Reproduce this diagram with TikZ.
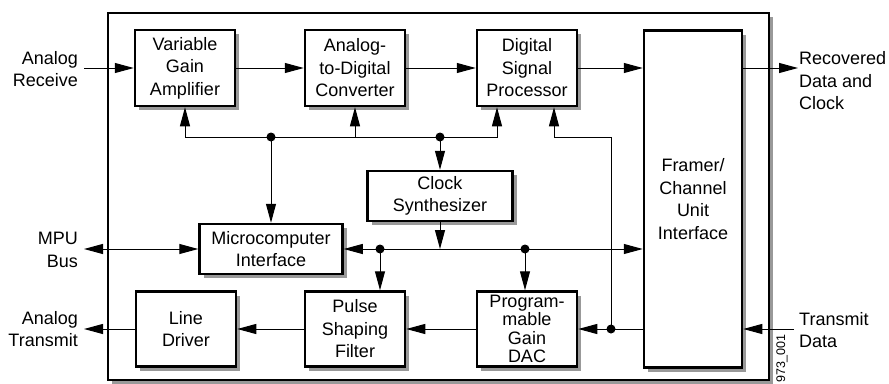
\documentclass[tikz,border=0pt]{standalone}
\usepackage{fontspec}
\setmainfont{Liberation Sans}
\usetikzlibrary{arrows.meta}
\usetikzlibrary{shadows}
\usetikzlibrary{calc}
\tikzset{ptr/.tip={Triangle[length=19pt,width=10pt]}}
\tikzset{blk/.style={rectangle,draw=black,line width=2.5pt,fill=white,align=center,inner sep=0pt,general shadow={fill=black!40,shadow xshift=4pt,shadow yshift=-4pt}}}
\tikzset{chip/.style={draw=black,line width=2pt,fill=white,general shadow={fill=black!40,shadow xshift=4pt,shadow yshift=-4pt}}}
\tikzset{lbl/.style={inner sep=0pt}}
\tikzset{sig/.style={line width=1pt,-ptr}}
\tikzset{bus/.style={line width=1pt,ptr-ptr}}
\tikzset{dot/.style={circle,fill=black,inner sep=0pt,minimum size=9pt}}

\begin{document}
\begin{tikzpicture}[x=1pt,y=-1pt,font=\fontsize{18}{22.5}\selectfont]
\useasboundingbox (0,0) rectangle (889,383);
\draw[chip] (108,13) rectangle (769,380);

% receive path
\node[blk,minimum width=100,minimum height=76] (vga) at (185,68) {Variable\\Gain\\Amplifier};
\node[blk,minimum width=100,minimum height=76] (adc) at (355,68) {Analog-\\to-Digital\\Converter};
\node[blk,minimum width=100,minimum height=76] (dsp) at (527,68) {Digital\\Signal\\Processor};
\node[blk,minimum width=98,minimum height=337] (fci) at (693,199) {Framer/\\Channel\\Unit\\Interface};

\node[blk,minimum width=145,minimum height=50] (clk) at (440,196) {Clock\\Synthesizer};
\node[blk,minimum width=143,minimum height=50] (mpi) at (271,249) {Microcomputer\\Interface};

% transmit path
\node[blk,minimum width=100,minimum height=75] (ldr) at (186,329) {Line\\Driver};
\node[blk,minimum width=100,minimum height=75] (psf) at (355,329) {Pulse\\Shaping\\Filter};
\node[blk,minimum width=100,minimum height=75,font=\fontsize{18}{18.5}\selectfont] (dac) at (527,329) {Program-\\mable\\Gain\\DAC};

\node[lbl,anchor=east,align=right] (arxl) at (78,69) {Analog\\Receive};
\node[lbl,anchor=west,align=left] (rdcl) at (799,81) {Recovered\\Data and\\Clock};
\node[lbl,anchor=east,align=right] (mpul) at (78,250) {MPU\\Bus};
\node[lbl,anchor=east,align=right] (atxl) at (78,329) {Analog\\Transmit};
\node[lbl,anchor=west,align=left] (txdl) at (799,330) {Transmit\\Data};
\node[lbl,rotate=90,anchor=east,font=\fontsize{12.5}{13}\selectfont] (fig) at (782,334) {973\_001};

\coordinate (arx) at (84,68);
\coordinate (rdc) at (798,68);
\coordinate (mpu) at (84,249);
\coordinate (atx) at (84,329);
\coordinate (txd) at (794,329);
\coordinate (b1) at (271,137);
\coordinate (b2) at (440,137);
\coordinate (b3) at (380,249);
\coordinate (b4) at (525,249);
\coordinate (b5) at (611,329);

\draw[sig] (arx) -- (vga);
\draw[sig] (vga) -- (adc);
\draw[sig] (adc) -- (dsp);
\draw[sig] (dsp) -- (dsp -| fci.west);
\draw[sig] (fci.east |- dsp) -- (rdc);

\draw[line width=1pt] (b1) -- (b2);
\draw[sig] (b1) -| (vga);
\draw[sig] (adc |- b1) -- (adc);
\draw[sig] (b2) -| ([xshift=-30pt]dsp.south);
\draw[sig] (b1) -- (mpi);
\draw[sig] (b2) -- (clk);
\draw[sig] (clk) -- (clk |- b3);

\draw[sig] (b3) -- (mpi);
\draw[sig] (b3) -- (b3 -| fci.west);
\draw[sig] (b3) -- (b3 |- psf.north);
\draw[sig] (b4) -- (b4 |- dac.north);
\draw[bus] (mpu) -- (mpi);

\draw[sig] (b5) -- (b5 |- b1) -| ([xshift=27pt]dsp.south);
\draw[sig] (txd) -- (txd -| fci.east);
\draw[sig] (b5 -| fci.west) -- (dac);
\draw[sig] (dac) -- (psf);
\draw[sig] (psf) -- (ldr);
\draw[sig] (ldr) -- (atx);

\node[dot] (d1) at (b1) {};
\node[dot] (d2) at (b2) {};
\node[dot] (d3) at (b3) {};
\node[dot] (d4) at (b4) {};
\node[dot] (d5) at (b5) {};
\end{tikzpicture}
\end{document}
